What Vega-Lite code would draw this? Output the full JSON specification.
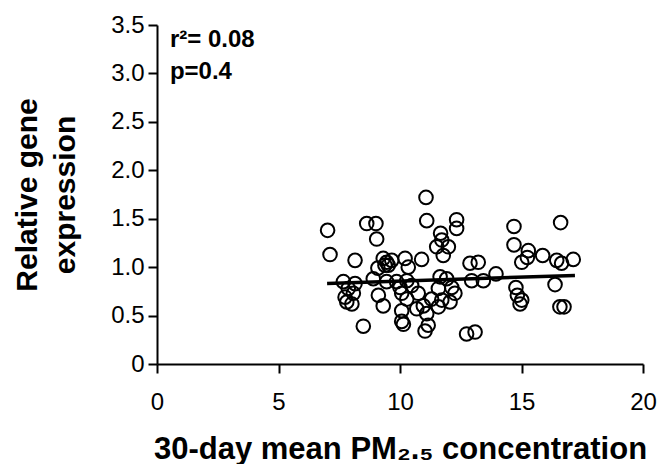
{
  "$schema": "https://vega.github.io/schema/vega-lite/v6.json",
  "width": 486,
  "height": 339,
  "autosize": "none",
  "padding": {"left": 157, "top": 25, "right": 14, "bottom": 100},
  "background": "white",
  "config": {
    "font": "Liberation Sans",
    "view": {"stroke": null},
    "axis": {
      "grid": false,
      "domainColor": "black",
      "domainWidth": 2,
      "tickColor": "black",
      "tickWidth": 2,
      "tickSize": 9,
      "labelColor": "black",
      "labelFontSize": 24,
      "labelFont": "Liberation Sans",
      "titleColor": "black",
      "titleFont": "Liberation Sans",
      "titleFontWeight": "bold"
    }
  },
  "datasets": {
    "pts": [
      {"pm": 7.02, "expr": 1.38}, {"pm": 7.12, "expr": 1.13}, {"pm": 7.67, "expr": 0.85}, {"pm": 7.87, "expr": 0.78},
      {"pm": 7.74, "expr": 0.69}, {"pm": 8.08, "expr": 0.73}, {"pm": 7.81, "expr": 0.64}, {"pm": 8.02, "expr": 0.62},
      {"pm": 8.15, "expr": 0.83}, {"pm": 8.15, "expr": 1.07}, {"pm": 8.49, "expr": 0.39}, {"pm": 8.63, "expr": 1.45},
      {"pm": 9.01, "expr": 1.45}, {"pm": 9.04, "expr": 1.29}, {"pm": 8.90, "expr": 0.88}, {"pm": 9.09, "expr": 0.99},
      {"pm": 9.11, "expr": 0.71}, {"pm": 9.31, "expr": 0.60}, {"pm": 9.45, "expr": 0.85}, {"pm": 9.31, "expr": 1.09},
      {"pm": 9.45, "expr": 1.05}, {"pm": 9.52, "expr": 1.02}, {"pm": 9.38, "expr": 1.02}, {"pm": 9.66, "expr": 1.07},
      {"pm": 9.86, "expr": 0.85}, {"pm": 10.00, "expr": 0.79}, {"pm": 10.07, "expr": 0.73}, {"pm": 10.28, "expr": 0.67},
      {"pm": 10.07, "expr": 0.55}, {"pm": 10.07, "expr": 0.44}, {"pm": 10.14, "expr": 0.41}, {"pm": 10.21, "expr": 1.09},
      {"pm": 10.34, "expr": 1.00}, {"pm": 10.28, "expr": 0.86}, {"pm": 10.48, "expr": 0.81}, {"pm": 10.69, "expr": 0.57},
      {"pm": 10.75, "expr": 0.73}, {"pm": 10.89, "expr": 1.08}, {"pm": 11.07, "expr": 1.72}, {"pm": 11.10, "expr": 1.48},
      {"pm": 10.96, "expr": 0.60}, {"pm": 11.10, "expr": 0.52}, {"pm": 11.16, "expr": 0.40}, {"pm": 11.03, "expr": 0.34},
      {"pm": 11.30, "expr": 0.67}, {"pm": 11.58, "expr": 0.59}, {"pm": 11.72, "expr": 0.66}, {"pm": 12.06, "expr": 0.64},
      {"pm": 11.58, "expr": 0.78}, {"pm": 11.65, "expr": 0.90}, {"pm": 11.92, "expr": 0.88}, {"pm": 12.13, "expr": 0.79},
      {"pm": 12.26, "expr": 0.73}, {"pm": 11.51, "expr": 1.21}, {"pm": 11.99, "expr": 1.21}, {"pm": 11.78, "expr": 1.12},
      {"pm": 11.72, "expr": 1.28}, {"pm": 11.67, "expr": 1.35}, {"pm": 12.33, "expr": 1.49}, {"pm": 12.33, "expr": 1.40},
      {"pm": 12.88, "expr": 1.04}, {"pm": 13.22, "expr": 1.05}, {"pm": 12.95, "expr": 0.86}, {"pm": 13.43, "expr": 0.86},
      {"pm": 12.74, "expr": 0.31}, {"pm": 13.09, "expr": 0.33}, {"pm": 13.95, "expr": 0.93}, {"pm": 14.69, "expr": 1.42},
      {"pm": 14.69, "expr": 1.23}, {"pm": 15.28, "expr": 1.17}, {"pm": 15.24, "expr": 1.10}, {"pm": 15.01, "expr": 1.05},
      {"pm": 15.87, "expr": 1.12}, {"pm": 16.45, "expr": 1.07}, {"pm": 16.65, "expr": 1.04}, {"pm": 17.13, "expr": 1.08},
      {"pm": 16.61, "expr": 1.46}, {"pm": 14.77, "expr": 0.79}, {"pm": 16.38, "expr": 0.82}, {"pm": 14.83, "expr": 0.71},
      {"pm": 15.01, "expr": 0.66}, {"pm": 14.94, "expr": 0.62}, {"pm": 16.58, "expr": 0.59}, {"pm": 16.75, "expr": 0.59}
    ],
    "fit": [
      {"pm": 7.0, "expr": 0.83},
      {"pm": 17.2, "expr": 0.915}
    ],
    "notes": [
      {"pm": 0.53, "expr": 3.27, "label": "r²= 0.08"},
      {"pm": 0.53, "expr": 2.94, "label": "p=0.4"}
    ]
  },
  "layer": [
    {
      "data": {"name": "pts"},
      "mark": {"type": "point", "shape": "circle", "filled": false, "stroke": "black", "strokeWidth": 2, "size": 185, "opacity": 1},
      "encoding": {
        "x": {
          "field": "pm", "type": "quantitative",
          "scale": {"domain": [0, 20], "nice": false, "zero": false},
          "axis": {
            "values": [0, 5, 10, 15, 20],
            "title": "30-day mean PM₂.₅ concentration",
            "titleFontSize": 31,
            "labelPadding": 17,
            "titlePadding": 20,
            "labelFlush": false
          }
        },
        "y": {
          "field": "expr", "type": "quantitative",
          "scale": {"domain": [0, 3.5], "nice": false, "zero": false},
          "axis": {
            "values": [0, 0.5, 1, 1.5, 2, 2.5, 3, 3.5],
            "labelExpr": "datum.value == 0 ? '0' : format(datum.value, '.1f')",
            "title": ["Relative gene", "expression"],
            "titleFontSize": 30,
            "titleLineHeight": 38,
            "labelPadding": 4,
            "titlePadding": 30,
            "labelFlush": false
          }
        }
      }
    },
    {
      "data": {"name": "fit"},
      "mark": {"type": "line", "color": "black", "strokeWidth": 3.5},
      "encoding": {
        "x": {"field": "pm", "type": "quantitative"},
        "y": {"field": "expr", "type": "quantitative"}
      }
    },
    {
      "data": {"name": "notes"},
      "mark": {"type": "text", "align": "left", "baseline": "alphabetic", "fontSize": 24, "fontWeight": "bold", "color": "black", "font": "Liberation Sans"},
      "encoding": {
        "x": {"field": "pm", "type": "quantitative"},
        "y": {"field": "expr", "type": "quantitative"},
        "text": {"field": "label"}
      }
    }
  ]
}
